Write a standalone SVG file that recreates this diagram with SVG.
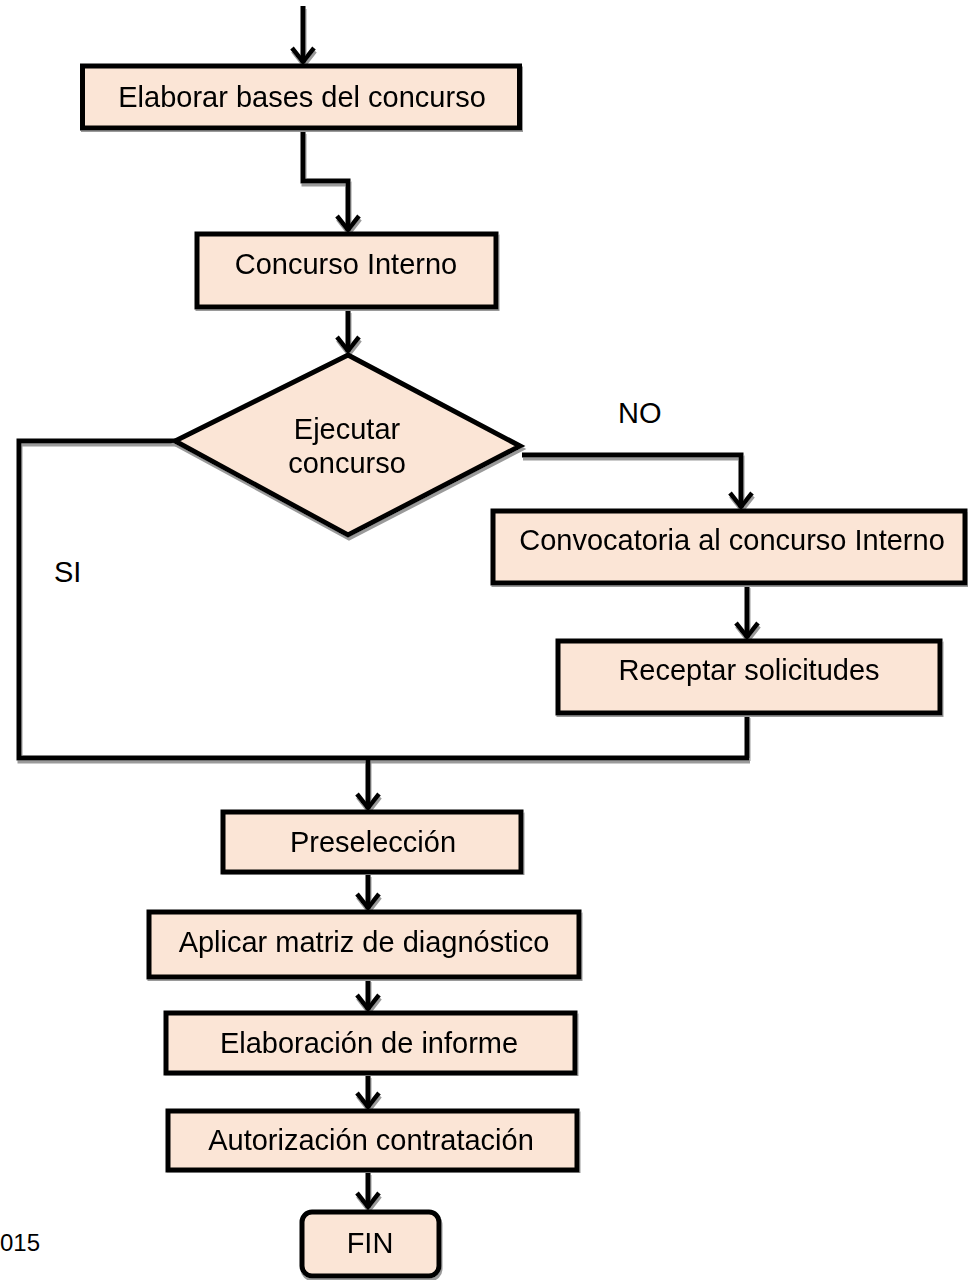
<svg xmlns="http://www.w3.org/2000/svg" width="968" height="1280" viewBox="0 0 968 1280">
<style>
.box{fill:#FBE5D6;stroke:#000;stroke-width:5}
.t{font-family:"Liberation Sans",Arial,sans-serif;font-size:29px;fill:#000;text-anchor:middle}
.lbl{font-family:"Liberation Sans",Arial,sans-serif;font-size:29px;fill:#000}
.c{fill:none;stroke:#000;stroke-width:5;stroke-linejoin:miter}
.ca{fill:none;stroke:#000;stroke-width:5;marker-end:url(#arr)}
</style>
<defs>
<filter id="sh" x="-5%" y="-5%" width="110%" height="110%">
<feFlood flood-color="#9a9a9a" result="f"/>
<feComposite in="f" in2="SourceAlpha" operator="in" result="s"/>
<feOffset in="s" dx="1" dy="3" result="o"/>
<feMerge><feMergeNode in="o"/><feMergeNode in="SourceGraphic"/></feMerge>
</filter>
<marker id="arr" markerUnits="userSpaceOnUse" markerWidth="40" markerHeight="40" viewBox="-20 -20 40 40" refX="0" refY="0" orient="auto" overflow="visible">
<path d="M-15,-11 L-1,0 L-15,11" fill="none" stroke="#000" stroke-width="4.5" stroke-linejoin="miter"/>
</marker>
</defs>
<g id="connectors" filter="url(#sh)">
<path class="ca" d="M303,6 V63"/>
<path class="ca" d="M303,131 V181 H348 V231"/>
<path class="ca" d="M348,310 V352"/>
<path class="c" d="M177,441 H19 V758 H749"/>
<path class="c" d="M747,715 V758"/>
<path class="ca" d="M368,758 V809"/>
<path class="ca" d="M522,455 H741 V508"/>
<path class="ca" d="M747,585 V638"/>
<path class="ca" d="M368,874 V909"/>
<path class="ca" d="M368,979 V1010"/>
<path class="ca" d="M368,1075 V1108"/>
<path class="ca" d="M368,1172 V1208"/>
</g>
<g id="n1" filter="url(#sh)"><rect class="box" x="82.5" y="66" width="437" height="62"/><text class="t" x="302" y="107">Elaborar bases del concurso</text></g>
<g id="n2" filter="url(#sh)"><rect class="box" x="197" y="234" width="299" height="73"/><text class="t" x="346" y="274">Concurso Interno</text></g>
<g id="n3" filter="url(#sh)"><polygon class="box" points="348,355 520,446 348,535 175,441"/><text class="t" x="347" y="439">Ejecutar</text><text class="t" x="347" y="473">concurso</text></g>
<g id="n4" filter="url(#sh)"><rect class="box" x="493" y="511" width="472" height="72"/><text class="t" x="732" y="550">Convocatoria al concurso Interno</text></g>
<g id="n5" filter="url(#sh)"><rect class="box" x="558" y="641" width="382" height="72"/><text class="t" x="749" y="680">Receptar solicitudes</text></g>
<g id="n6" filter="url(#sh)"><rect class="box" x="223" y="812" width="298" height="60"/><text class="t" x="373" y="852">Preselección</text></g>
<g id="n7" filter="url(#sh)"><rect class="box" x="149" y="912" width="430" height="65"/><text class="t" x="364" y="952">Aplicar matriz de diagnóstico</text></g>
<g id="n8" filter="url(#sh)"><rect class="box" x="166" y="1013" width="409" height="60"/><text class="t" x="369" y="1053">Elaboración de informe</text></g>
<g id="n9" filter="url(#sh)"><rect class="box" x="168" y="1111" width="409" height="59"/><text class="t" x="371" y="1150">Autorización contratación</text></g>
<g id="n10" filter="url(#sh)"><rect class="box" x="302" y="1212" width="137" height="64" rx="10"/><text class="t" x="370" y="1253">FIN</text></g>
<g id="labels">
<text class="lbl" x="54" y="582">SI</text>
<text class="lbl" x="618" y="423">NO</text>
<text class="lbl" x="0" y="1251" style="font-size:24px">015</text>
</g>
</svg>
